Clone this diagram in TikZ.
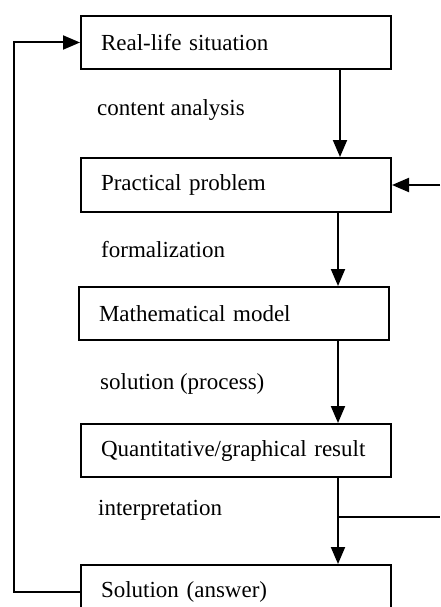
\documentclass[tikz,border=0pt]{standalone}
\usepackage{fontspec}
\setmainfont{Liberation Serif}
\usetikzlibrary{arrows.meta}
\begin{document}
\begin{tikzpicture}[x=1pt,y=-1pt,
  stagebox/.style={draw, line width=2pt, rectangle, minimum width=310pt, minimum height=53pt,
    text width=270pt, inner xsep=20pt, inner ysep=0pt, align=left, font=\fontsize{23}{27}\selectfont},
  lbl/.style={anchor=base west, inner sep=0pt, font=\fontsize{23}{27}\selectfont},
  arr/.style={line width=2pt, -{Triangle[length=17pt,width=14pt]}},
  ln/.style={line width=2pt}]
\clip (0,0) rectangle (440,607);
\fill[white] (0,0) rectangle (440,607);
\node[stagebox] (b1) at (236,42.5) {Real-life situation};
\node[stagebox, minimum height=54pt] (b2) at (236,185) {Practical problem};
\node[stagebox] (b3) at (234,313.5) {Mathematical model};
\node[stagebox] (b4) at (236,450.5) {Quantitative/graphical result};
\node[stagebox] (b5) at (236,591.5) {Solution (answer)};
\node[lbl] (l1) at (97,115) {content analysis};
\node[lbl] (l2) at (101,257) {formalization};
\node[lbl] (l3) at (100,389) {solution (process)};
\node[lbl] (l4) at (98,515) {interpretation};
\coordinate (c1) at (340,0);
\coordinate (col) at (338,0);
\coordinate (r2) at (440,185);
\coordinate (j) at (338,517);
\coordinate (r4) at (440,517);
\draw[arr] (b1.south -| c1) -- (b2.north -| c1);
\draw[arr] (b2.south -| col) -- (b3.north -| col);
\draw[arr] (b3.south -| col) -- (b4.north -| col);
\draw[arr] (b4.south -| col) -- (b5.north -| col);
\draw[arr] (r2) -- (b2.east);
\draw[ln] (j) -- (r4);
\draw[arr] (b5.west) -- ++(-66,0) |- (b1.west);
\end{tikzpicture}
\end{document}
